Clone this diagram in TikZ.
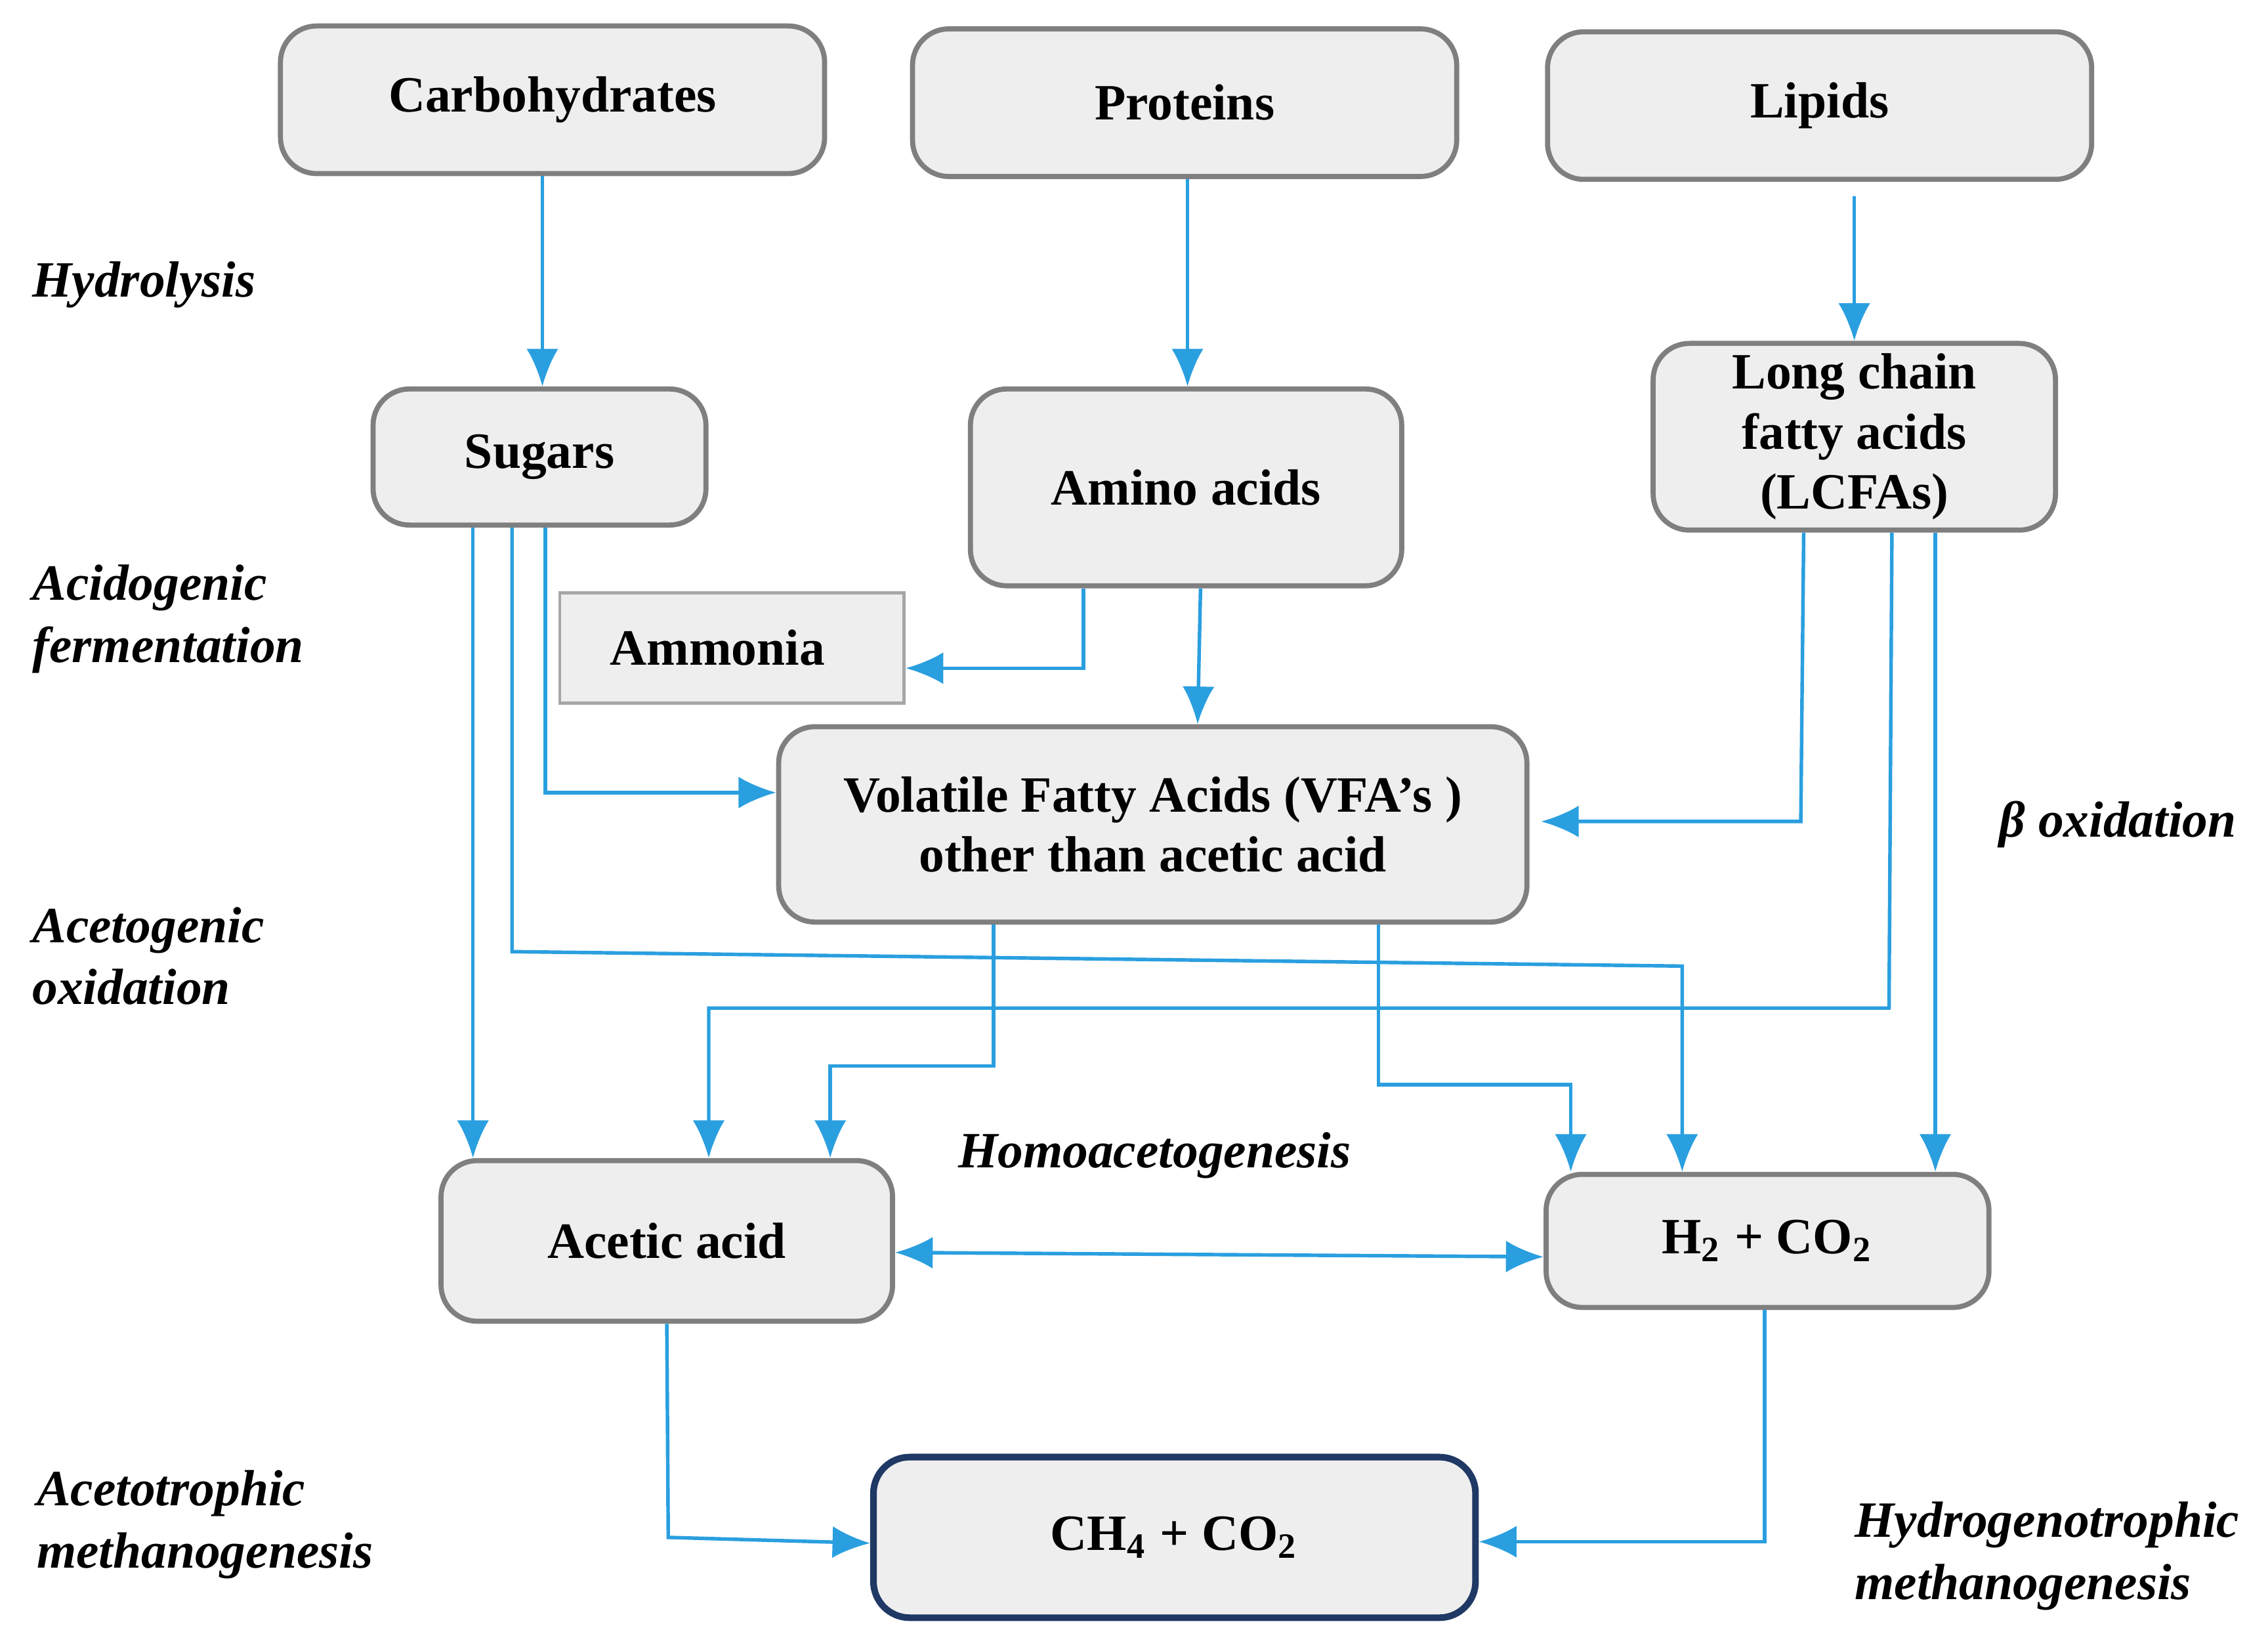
\documentclass[tikz,border=0pt]{standalone}
\usepackage{fontspec}
\setmainfont{Liberation Serif}
\usetikzlibrary{arrows.meta, calc}
\definecolor{flow}{HTML}{2A9FDF}
\definecolor{boxgray}{HTML}{EEEEEE}
\definecolor{edgegray}{HTML}{7F7F7F}
\definecolor{navy}{HTML}{1F3864}
\tikzset{
  stage/.style={draw=edgegray, fill=boxgray, line width=1pt, rounded corners=2.5mm,
    align=center, font=\fontsize{10}{11.8}\selectfont\bfseries, inner sep=0pt},
  phase/.style={anchor=west, align=left, font=\fontsize{10}{12.2}\selectfont\bfseries\itshape},
  arr/.style={flow, line width=0.7pt, -{Latex[length=2.6mm,width=2.2mm]}},
}
\begin{document}
\begin{tikzpicture}[x=0.01cm, y=-0.01cm]
        \useasboundingbox (0,0) rectangle (1568,1140);
        % substrates
        \node[stage, minimum width=3.76cm, minimum height=1.02cm] (carb) at (382,69) {Carbohydrates};
        \node[stage, minimum width=3.76cm, minimum height=1.02cm] (prot) at (819,71) {Proteins};
        \node[stage, minimum width=3.76cm, minimum height=1.02cm] (lip) at (1258,73) {Lipids};
        % monomers
        \node[stage, minimum width=2.30cm, minimum height=0.94cm] (sug) at (373,316) {Sugars};
        \node[stage, minimum width=2.98cm, minimum height=1.36cm] (amino) at (820,337) {Amino acids};
        \node[stage, minimum width=2.78cm, minimum height=1.29cm] (lcfa) at (1282,302) {Long chain\\fatty acids\\(LCFAs)};
        \node[stage, rounded corners=0pt, draw=gray!70, line width=0.6pt, minimum width=2.38cm, minimum height=0.76cm] (amm) at (506,448) {Ammonia\hspace*{2mm}};
        \node[stage, minimum width=5.17cm, minimum height=1.35cm] (vfa) at (797,570) {Volatile Fatty Acids (VFA’s )\\other than acetic acid};
        \node[stage, minimum width=3.12cm, minimum height=1.11cm] (acet) at (461,858) {Acetic acid};
        \node[stage, minimum width=3.06cm, minimum height=0.92cm] (hyd) at (1222,858) {H\textsubscript{2} + CO\textsubscript{2}};
        \node[stage, draw=navy, line width=1.3pt, minimum width=4.16cm, minimum height=1.11cm] (meth) at (812,1063) {CH\textsubscript{4} + CO\textsubscript{2}};

        % process labels
        \node[phase] (l1) at (10,197) {Hydrolysis};
        \node[phase] (l2) at (10,428) {Acidogenic\\fermentation};
        \node[phase] (l3) at (10,661) {Acetogenic\\oxidation};
        \node[phase] (l4) at (13,1054) {Acetotrophic\\methanogenesis};
        \node[phase] (l5) at (1270,1076) {Hydrogenotrophic\\methanogenesis};
        \node[phase] (l6) at (1370,570) {β oxidation};
        \node[phase] (l7) at (650,799) {Homoacetogenesis};

        % hydrolysis
        \draw[arr] (carb.south -| 375,0) -- (sug.north -| 375,0);
        \draw[arr] (prot.south -| 821,0) -- (amino.north -| 821,0);
        \draw[arr] ($(lip.south)+(24,10)$) -- (lcfa.north);
        % acidogenesis
        \draw[arr] (amino.south -| 749,0) -- (749,462) -- (amm.east |- 0,462);
        \draw[arr] (amino.south -| 830,0) -- (vfa.north -| 828,0);
        \draw[arr] (sug.south -| 377,0) -- (377,548) -- (vfa.west |- 0,548);
        \draw[arr] (lcfa.south -| 1247,0) -- (1245,568) -- ($(vfa.east |- 0,568)+(8,0)$);
        \draw[arr] (sug.south -| 327,0) -- (acet.north -| 327,0);
        \draw[arr] (sug.south -| 354,0) -- (354,658) -- (1163,668) -- (hyd.north -| 1163,0);
        \draw[arr] (lcfa.south -| 1308,0) -- (1306,697) -- (490,697) -- (acet.north -| 490,0);
        \draw[arr] (vfa.south -| 687,0) -- (687,737) -- (574,737) -- (acet.north -| 574,0);
        \draw[arr] (vfa.south -| 953,0) -- (953,750) -- (1086,750) -- (hyd.north -| 1086,0);
        \draw[arr] (lcfa.south -| 1338,0) -- (hyd.north -| 1338,0);
        % homoacetogenesis
        \draw[arr, {Latex[length=2.6mm,width=2.2mm]}-{Latex[length=2.6mm,width=2.2mm]}] (acet.east |- 0,866) -- (hyd.west |- 0,869);
        % methanogenesis
        \draw[arr] (acet.south) -- (462,1063) -- (meth.west |- 0,1067);
        \draw[arr] (hyd.south -| 1220,0) -- (1220,1066) -- (meth.east |- 0,1066);
\end{tikzpicture}
\end{document}
